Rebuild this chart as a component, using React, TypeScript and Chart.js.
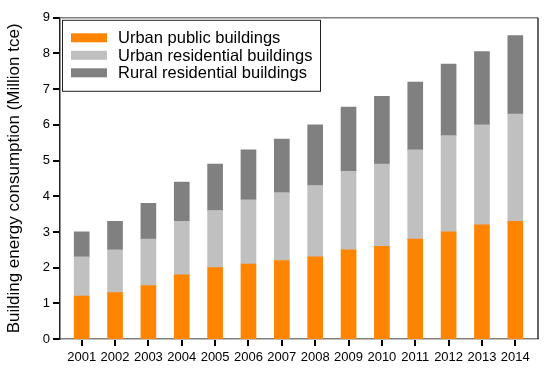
import React, { useEffect, useRef } from "react";
import { Chart, registerables } from "chart.js";

Chart.register(...registerables);

const years = [2001, 2002, 2003, 2004, 2005, 2006, 2007, 2008, 2009, 2010, 2011, 2012, 2013, 2014];
const urbanPublic = [1.2, 1.3, 1.5, 1.8, 2.0, 2.1, 2.2, 2.3, 2.5, 2.6, 2.8, 3.0, 3.2, 3.3];
const urbanResidential = [1.1, 1.2, 1.3, 1.5, 1.6, 1.8, 1.9, 2.0, 2.2, 2.3, 2.5, 2.7, 2.8, 3.0];
const ruralResidential = [0.7, 0.8, 1.0, 1.1, 1.3, 1.4, 1.5, 1.7, 1.8, 1.9, 1.9, 2.0, 2.05, 2.2];
const seriesLabels = ["Urban public buildings", "Urban residential buildings", "Rural residential buildings"];
const yTicks = [0, 1, 2, 3, 4, 5, 6, 7, 8, 9];

const colors = ["#FF8400", "#C0C0C0", "#808080"];

const framePlugin = {
  id: "frameAndLegend",
  afterDatasetsDraw(chart: any) {
    const { ctx, chartArea, scales } = chart;
    ctx.save();
    ctx.strokeStyle = "#808080";
    ctx.lineWidth = 1.5;
    ctx.beginPath();
    ctx.moveTo(chartArea.left, chartArea.top);
    ctx.lineTo(chartArea.right, chartArea.top);
    ctx.stroke();
    ctx.strokeStyle = "#333333";
    ctx.beginPath();
    ctx.moveTo(chartArea.right, chartArea.top);
    ctx.lineTo(chartArea.right, chartArea.bottom);
    ctx.stroke();

    const bx = chartArea.left + 2;
    const by = chartArea.top + 2;
    const bw = 258;
    const bh = 71;
    ctx.fillStyle = "#ffffff";
    ctx.fillRect(bx, by, bw, bh);
    ctx.strokeStyle = "#222222";
    ctx.lineWidth = 1;
    ctx.strokeRect(bx + 0.5, by + 0.5, bw, bh);
    ctx.font = "16.5px 'Liberation Sans', Arial, sans-serif";
    ctx.textBaseline = "middle";
    chart.data.datasets.forEach((ds: any, i: number) => {
      const cy = by + 18 + i * 17.5;
      ctx.fillStyle = ds.backgroundColor;
      ctx.fillRect(bx + 9, cy - 4.5, 36, 9);
      ctx.fillStyle = "#000000";
      ctx.fillText(ds.label, bx + 56, cy + 1);
    });
    ctx.restore();
  },
  afterDraw(chart: any) {
    const { ctx, chartArea, scales } = chart;
    ctx.save();
    ctx.fillStyle = "#000000";
    const bottom = Math.round(chartArea.bottom);
    const left = Math.round(chartArea.left);
    years.forEach((v) => {
      const px = Math.round(scales.x.getPixelForValue(v));
      ctx.fillRect(px - 1, bottom + 1, 2, 6);
    });
    yTicks.forEach((v) => {
      const py = Math.round(scales.y.getPixelForValue(v));
      ctx.fillRect(left - 7, py - 1, 6, 2);
    });
    ctx.restore();
  },
};

export default function App() {
  const canvasRef = useRef<HTMLCanvasElement>(null);

  useEffect(() => {
    document.body.style.margin = "0";
    const canvas = canvasRef.current;
    if (!canvas) return;
    const series = [urbanPublic, urbanResidential, ruralResidential];
    const chart = new Chart(canvas, {
      type: "bar",
      data: {
        datasets: series.map((vals, i) => ({
          label: seriesLabels[i],
          data: years.map((y, j) => ({ x: y, y: vals[j] })),
          backgroundColor: colors[i],
          borderWidth: 0,
          barThickness: 15,
        })),
      },
      options: {
        animation: false,
        responsive: false,
        maintainAspectRatio: false,
        layout: { padding: { left: 0, right: 12, top: 16, bottom: 0 } },
        plugins: { legend: { display: false }, tooltip: { enabled: false } },
        scales: {
          x: {
            type: "linear",
            stacked: true,
            offset: false,
            min: 2000.35,
            max: 2014.68,
            afterBuildTicks: (scale: any) => {
              scale.ticks = years.map((v) => ({ value: v }));
            },
            afterFit: (scale: any) => {
              scale.height = 34;
              scale.paddingLeft = 0;
              scale.paddingRight = 0;
            },
            ticks: {
              autoSkip: false,
              maxRotation: 0,
              color: "#000000",
              padding: 11,
              font: { family: "'Liberation Sans', Arial, sans-serif", size: 13 },
              callback: (v: any) => String(v),
            },
            grid: { offset: false, display: false, drawTicks: false },
            border: { display: true, color: "#808080", width: 1.5 },
          },
          y: {
            stacked: true,
            min: 0,
            max: 9,
            afterBuildTicks: (scale: any) => {
              scale.ticks = yTicks.map((v) => ({ value: v }));
            },
            afterFit: (scale: any) => {
              scale.width = 60;
            },
            ticks: {
              color: "#000000",
              padding: 10,
              font: { family: "'Liberation Sans', Arial, sans-serif", size: 13 },
            },
            grid: { display: false, drawTicks: false },
            border: { display: true, color: "#222222", width: 1.5 },
            title: {
              display: true,
              text: "Building energy consumption (Million tce)",
              color: "#000000",
              padding: { top: 4, bottom: 0 },
              font: { family: "'Liberation Sans', Arial, sans-serif", size: 17 },
            },
          },
        },
      },
      plugins: [framePlugin],
    } as any);
    return () => chart.destroy();
  }, []);

  return (
    <div style={{ width: 550, height: 373, background: "#ffffff" }}>
      <canvas ref={canvasRef} width={550} height={373} style={{ display: "block" }} />
    </div>
  );
}
